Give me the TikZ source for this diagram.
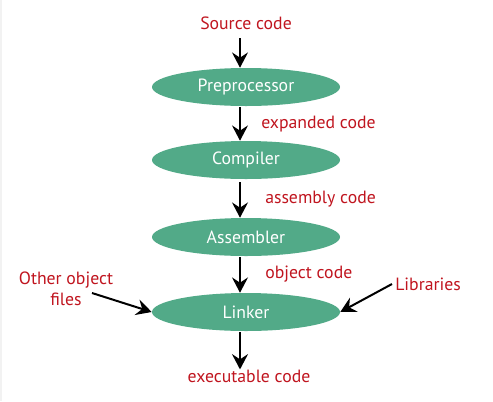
\documentclass[tikz,border=0pt]{standalone}
\usepackage{fontspec}
\setmainfont{PT Sans}
\usetikzlibrary{arrows.meta,shapes.geometric}
\definecolor{stagegreen}{RGB}{82,170,136}
\definecolor{labelred}{RGB}{192,21,31}

\begin{document}
\begin{tikzpicture}[
  x=0.75pt, y=-0.75pt,
  every node/.style={font=\fontsize{13.3}{16}\selectfont},
  stage/.style={draw=none, ellipse, fill=stagegreen, text=white, minimum width=141pt, minimum height=28.5pt, inner sep=0pt},
  label/.style={text=labelred, inner sep=0pt, align=center},
  arrow/.style={-{Stealth[length=11.5pt, width=12pt, inset=4pt]}, line width=1.5pt}
]
  \useasboundingbox (0,0) rectangle (493,401);
  \draw[black!5, line width=1.5pt] (1,0) -- (1,401);

  \node[label]                (source)    at (246, 23)  {Source code};
  \node[stage]                (preproc)   at (246, 87)  {Preprocessor};
  \node[stage]                (compiler)  at (246, 160) {Compiler};
  \node[stage]                (assembler) at (246, 237) {Assembler};
  \node[stage]                (linker)    at (246, 312) {Linker};
  \node[label]                (exec)      at (249, 376) {executable code};

  \node[label, anchor=west]   (expanded)  at (261, 124) {expanded code};
  \node[label, anchor=west]   (assembly)  at (265, 199) {assembly code};
  \node[label, anchor=west]   (objcode)   at (265, 274) {object code};
  \node[label]                (otherobj)  at (66, 289)  {Other object\\files};
  \node[label, anchor=west]   (libs)      at (395, 284) {Libraries};

  \coordinate (srcend)   at (240, 38);
  \coordinate (preend)   at (240, 107);
  \coordinate (compend)  at (240, 182);
  \coordinate (asmend)   at (240, 257);
  \coordinate (linkend)  at (240, 332);
  \coordinate (otherend) at (92, 293);
  \coordinate (libend)   at (392, 284);

  \draw[arrow] (srcend)   -- (srcend |- preproc.north);
  \draw[arrow] (preend)   -- (preend |- compiler.north);
  \draw[arrow] (compend)  -- (compend |- assembler.north);
  \draw[arrow] (asmend)   -- (asmend |- linker.north);
  \draw[arrow] (linkend)  -- (linkend |- exec.north);
  \draw[arrow] (otherend) -- (linker.west);
  \draw[arrow] (libend)   -- (linker.east);
\end{tikzpicture}
\end{document}
